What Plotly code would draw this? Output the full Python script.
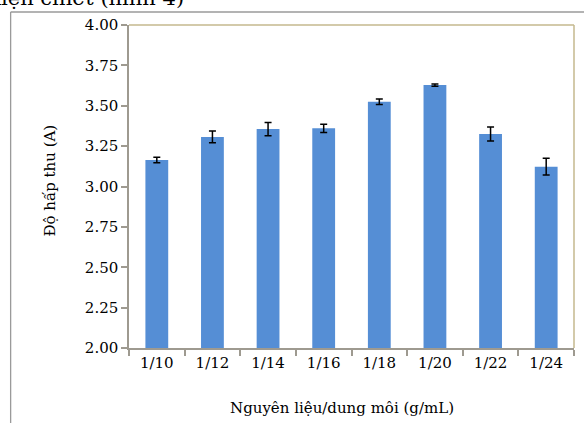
import plotly.graph_objects as go

categories = ["1/10", "1/12", "1/14", "1/16", "1/18", "1/20", "1/22", "1/24"]
absorbance = [3.164, 3.307, 3.356, 3.360, 3.525, 3.628, 3.325, 3.123]
errors = [0.017, 0.036, 0.041, 0.025, 0.017, 0.007, 0.043, 0.052]
y_ticks = [2.00, 2.25, 2.50, 2.75, 3.00, 3.25, 3.50, 3.75, 4.00]

W, H = 584, 423
L, R, T, B = 128.5, 10, 25, 75
pw, ph = W - L - R, H - T - B

def px(x):
    return (x - L) / pw

def py(y):
    return (H - B - y) / ph

serif = "DejaVu Serif"

fig = go.Figure()
fig.add_trace(go.Bar(
    x=categories, y=absorbance,
    marker=dict(color="#558ED5", line=dict(width=0)),
    width=0.41,
    error_y=dict(type="data", array=errors, visible=True,
                 color="#000000", thickness=1.5, width=3.5),
))

fig.update_layout(
    width=W, height=H,
    margin=dict(l=L, r=R, t=T, b=B),
    paper_bgcolor="white", plot_bgcolor="white",
    showlegend=False,
    font=dict(family=serif, size=15, color="#000000"),
    bargap=0.59,
)
fig.update_xaxes(
    type="category", showgrid=False, zeroline=False,
    showline=True, linecolor="#9E9A90", linewidth=1.5,
    ticks="outside", ticklen=6, tickcolor="#9E9A90", tickwidth=1.5,
    tickson="boundaries",
    tickfont=dict(family=serif, size=15),
)
fig.update_yaxes(
    range=[2.0, 4.0], tickvals=y_ticks,
    ticktext=[f"{v:.2f}" for v in y_ticks],
    showgrid=False, zeroline=False,
    showline=True, linecolor="#9E9A90", linewidth=1.5,
    ticks="outside", ticklen=6, tickcolor="#9E9A90", tickwidth=1.5,
    tickfont=dict(family=serif, size=15),
)

# plot-area border top and right (tan)
fig.add_shape(type="line", xref="paper", yref="paper", x0=0, x1=1, y0=1, y1=1,
              line=dict(color="#C4B88E", width=1.5))
fig.add_shape(type="line", xref="paper", yref="paper", x0=1, x1=1, y0=0, y1=1,
              line=dict(color="#C4B88E", width=1.5))
# outer document frame (left & top)
fig.add_shape(type="line", xref="paper", yref="paper", x0=px(10), x1=px(600),
              y0=py(12), y1=py(12), line=dict(color="#9A9A9A", width=1.3))
fig.add_shape(type="line", xref="paper", yref="paper", x0=px(10), x1=px(10),
              y0=py(12), y1=py(440), line=dict(color="#9A9A9A", width=1.3))

fig.add_annotation(text="Độ hấp thu (A)", xref="paper", yref="paper",
                   x=px(49), y=py(181), textangle=-90, showarrow=False,
                   font=dict(family=serif, size=15), xanchor="center", yanchor="middle")
fig.add_annotation(text="Nguyên liệu/dung môi (g/mL)", xref="paper", yref="paper",
                   x=px(342), y=py(408), showarrow=False,
                   font=dict(family=serif, size=15), xanchor="center", yanchor="middle")
fig.add_annotation(text="điều kiện chiết (hình 4)", xref="paper", yref="paper",
                   x=px(186), y=py(-2), showarrow=False,
                   font=dict(family=serif, size=21), xanchor="right", yanchor="middle")

fig.write_html("out.html")
